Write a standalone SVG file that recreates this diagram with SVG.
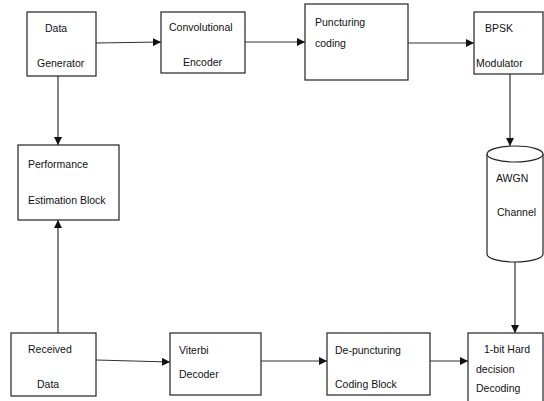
<svg xmlns="http://www.w3.org/2000/svg" width="544" height="401" viewBox="0 0 544 401">
<defs>
<marker id="ah" markerWidth="8" markerHeight="8" refX="8" refY="4" orient="auto" markerUnits="userSpaceOnUse">
<path d="M0,0 L8,4 L0,8 Z" fill="#111"/>
</marker>
</defs>
<style>
.box{fill:#fff;stroke:#222;stroke-width:1.2}
.t{font-family:"Liberation Sans",Arial,sans-serif;font-size:10.5px;fill:#111}
.c{fill:none;stroke:#333;stroke-width:1.2}
</style>
<rect width="544" height="401" fill="#fff"/>
<g id="connectors">
<line class="c" x1="96" y1="43" x2="161" y2="42" marker-end="url(#ah)"/>
<line class="c" x1="245" y1="42" x2="305" y2="42" marker-end="url(#ah)"/>
<line class="c" x1="408" y1="43" x2="474" y2="43" marker-end="url(#ah)"/>
<line class="c" x1="510" y1="74" x2="510" y2="146" marker-end="url(#ah)"/>
<line class="c" x1="515" y1="262" x2="515" y2="333" marker-end="url(#ah)"/>
<line class="c" x1="430" y1="361" x2="468" y2="361" marker-end="url(#ah)"/>
<line class="c" x1="261" y1="361" x2="327" y2="361" marker-end="url(#ah)"/>
<line class="c" x1="96" y1="360" x2="170" y2="362" marker-end="url(#ah)"/>
<line class="c" x1="58" y1="333" x2="58" y2="220" marker-end="url(#ah)"/>
<line class="c" x1="58" y1="76" x2="58" y2="145" marker-end="url(#ah)"/>
</g>
<g id="data-generator">
<rect class="box" x="27" y="12" width="69" height="64"/>
<text class="t" x="45" y="32">Data</text>
<text class="t" x="37" y="67">Generator</text>
</g>
<g id="convolutional-encoder">
<rect class="box" x="161" y="12" width="84" height="61"/>
<text class="t" x="169" y="31">Convolutional</text>
<text class="t" x="183" y="66">Encoder</text>
</g>
<g id="puncturing-coding">
<rect class="box" x="305" y="4" width="103" height="76"/>
<text class="t" x="315" y="26">Puncturing</text>
<text class="t" x="315" y="47">coding</text>
</g>
<g id="bpsk-modulator">
<rect class="box" x="474" y="12" width="69" height="62"/>
<text class="t" x="485" y="32">BPSK</text>
<text class="t" x="476" y="67">Modulator</text>
</g>
<g id="awgn-channel">
<path class="box" d="M487,154 L487,254 A28,8 0 0 0 543,254 L543,154 A28,8 0 0 0 487,154 Z"/>
<path class="box" d="M487,154 A28,8 0 0 0 543,154" fill="none"/>
<text class="t" x="496" y="182">AWGN</text>
<text class="t" x="497" y="216">Channel</text>
</g>
<g id="hard-decision-decoding">
<rect class="box" x="468" y="333" width="75" height="72"/>
<text class="t" x="484" y="353">1-bit Hard</text>
<text class="t" x="476" y="373">decision</text>
<text class="t" x="476" y="392">Decoding</text>
</g>
<g id="de-puncturing">
<rect class="box" x="327" y="333" width="103" height="62"/>
<text class="t" x="335" y="354">De-puncturing</text>
<text class="t" x="335" y="388">Coding Block</text>
</g>
<g id="viterbi-decoder">
<rect class="box" x="170" y="333" width="91" height="62"/>
<text class="t" x="179" y="354">Viterbi</text>
<text class="t" x="179" y="378">Decoder</text>
</g>
<g id="received-data">
<rect class="box" x="11" y="333" width="85" height="63"/>
<text class="t" x="28" y="353">Received</text>
<text class="t" x="37" y="388">Data</text>
</g>
<g id="performance-estimation">
<rect class="box" x="18" y="145" width="101" height="75"/>
<text class="t" x="28" y="168">Performance</text>
<text class="t" x="28" y="204">Estimation Block</text>
</g>
</svg>
